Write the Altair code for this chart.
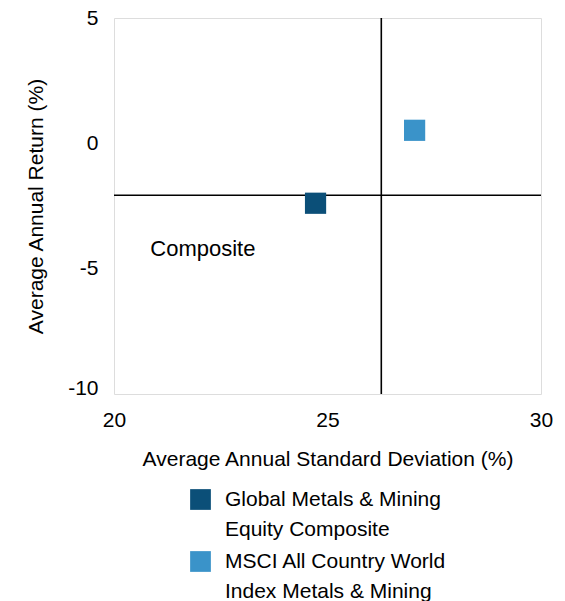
import altair as alt
import pandas as pd

# ---- data ----
series_names = ["Global Metals & Mining|Equity Composite",
                "MSCI All Country World|Index Metals & Mining"]
std_dev = [24.72, 27.04]
avg_return = [-2.39, 0.52]
series_colors = ["#0b4f78", "#3a93c9"]

x_ticks = [20, 25, 30]
y_ticks = [-10, -5, 0, 5]

median_std = [26.26]
median_ret = [-2.07]

note_text = ["Composite"]
note_x = [20.85]
note_y = [-4.2]

FONT = "Liberation Sans"
FS = 21

points = pd.DataFrame({"series": series_names, "std": std_dev, "ret": avg_return})
vdf = pd.DataFrame({"std": median_std})
hdf = pd.DataFrame({"ret": median_ret})
ndf = pd.DataFrame({"label": note_text, "std": note_x, "ret": note_y})

xscale = alt.Scale(domain=[20, 30], nice=False, zero=False)
yscale = alt.Scale(domain=[-10, 5], nice=False, zero=False)

xaxis = alt.Axis(values=x_ticks, title="Average Annual Standard Deviation (%)",
                 grid=False, ticks=False, tickSize=0, domain=False, labelFlush=False,
                 labelExpr="toString(datum.value)",
                 labelPadding=15, labelFont=FONT, labelFontSize=FS, labelColor="black",
                 titleFont=FONT, titleFontSize=FS, titleFontWeight="normal", titleColor="black",
                 titleBaseline="alphabetic", titleY=71)
yaxis = alt.Axis(values=y_ticks, title="Average Annual Return (%)",
                 grid=False, ticks=False, tickSize=0, domain=False, labelFlush=False,
                 labelExpr="toString(datum.value)",
                 labelPadding=16, labelFont=FONT, labelFontSize=FS, labelColor="black",
                 labelBaseline={"condition": {"test": "datum.value == -10", "value": "alphabetic"},
                                "value": "middle"},
                 titleFont=FONT, titleFontSize=FS, titleFontWeight="normal", titleColor="black",
                 titleBaseline="alphabetic", titleX=-72, titleAngle=-90)

X = alt.X("std:Q", scale=xscale, axis=xaxis)
Y = alt.Y("ret:Q", scale=yscale, axis=yaxis)

vline = alt.Chart(vdf).mark_rule(color="black", strokeWidth=1.6).encode(x=X)
hline = alt.Chart(hdf).mark_rule(color="black", strokeWidth=1.6).encode(y=Y)

pts = alt.Chart(points).mark_square(size=450, opacity=1).encode(
    x=X, y=Y,
    color=alt.Color("series:N",
                    scale=alt.Scale(domain=series_names, range=series_colors),
                    legend=alt.Legend(title=None, orient="none", legendX=76, legendY=471,
                                      direction="vertical", padding=0,
                                      labelExpr="split(datum.label, '|')",
                                      labelBaseline="middle",
                                      labelFont=FONT, labelFontSize=FS, labelColor="black",
                                      labelLimit=400, labelOffset=14,
                                      symbolType="square", symbolSize=430,
                                      symbolStrokeWidth=0, symbolOpacity=1,
                                      rowPadding=10))
)

note = alt.Chart(ndf).mark_text(align="left", baseline="middle", font=FONT,
                                fontSize=22, color="black").encode(x=X, y=Y, text="label:N")

chart = alt.layer(vline, hline, pts, note).properties(
    width=427, height=376,
    autosize=alt.AutoSizeParams(type="none"),
    padding={"left": 106, "top": 10, "right": 16, "bottom": 215},
).configure_view(
    stroke="black", strokeWidth=2
).configure(
    background="white",
    style={"guide-label": {"lineHeight": 30}},
)

chart.save("out.html", embed_options={"renderer": "svg", "actions": False})
